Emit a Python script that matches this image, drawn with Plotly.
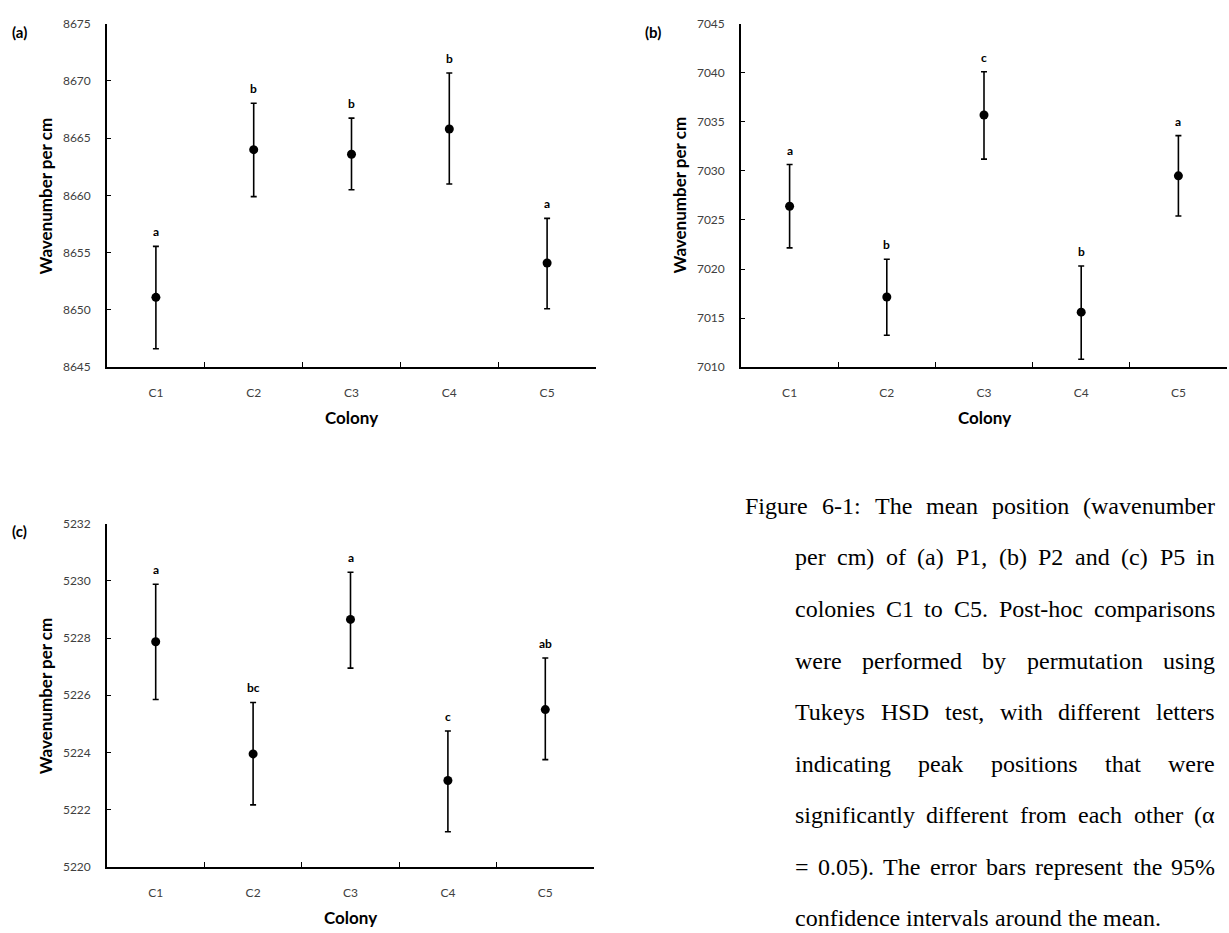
import plotly.graph_objects as go

W, H = 1229, 933

colonies = ["C1", "C2", "C3", "C4", "C5"]

p1_mean = [8651.1, 8664.0, 8663.6, 8665.8, 8654.1]
p1_upper = [8655.55, 8668.05, 8666.75, 8670.7, 8658.0]
p1_lower = [8646.6, 8659.9, 8660.5, 8661.0, 8650.1]
p1_letters = ["a", "b", "b", "b", "a"]

p2_mean = [7026.4, 7017.15, 7035.7, 7015.6, 7029.5]
p2_upper = [7030.65, 7021.0, 7040.1, 7020.3, 7033.6]
p2_lower = [7022.15, 7013.25, 7031.2, 7010.8, 7025.4]
p2_letters = ["a", "b", "c", "b", "a"]

p5_mean = [5227.87, 5223.95, 5228.65, 5223.02, 5225.5]
p5_upper = [5229.88, 5225.75, 5230.3, 5224.75, 5227.3]
p5_lower = [5225.85, 5222.17, 5226.95, 5221.23, 5223.75]
p5_letters = ["a", "bc", "a", "c", "ab"]

y_ranges = [[8645, 8675], [7010, 7045], [5220, 5232]]
y_dticks = [5, 5, 2]
panel_labels = ["(a)", "(b)", "(c)"]
y_title = "Wavenumber per cm"
x_title = "Colony"

caption_lines = [
    "Figure 6-1: The mean position (wavenumber",
    "per cm) of (a) P1, (b) P2 and (c) P5 in",
    "colonies C1 to C5. Post-hoc comparisons",
    "were performed by permutation using",
    "Tukeys HSD test, with different letters",
    "indicating peak positions that were",
    "significantly different from each other (α",
    "= 0.05). The error bars represent the 95%",
    "confidence intervals around the mean.",
]


def px(x):
    return x / W


def py(y):
    return 1 - y / H


# panel boxes in pixels: (left, right, top, bottom)
boxes = [(107, 596, 16, 365), (741, 1227, 16, 365), (107, 594, 524, 873)]

series = [
    (p1_mean, p1_upper, p1_lower, p1_letters),
    (p2_mean, p2_upper, p2_lower, p2_letters),
    (p5_mean, p5_upper, p5_lower, p5_letters),
]

fig = go.Figure()
TICK_FONT = dict(family="Lato", size=12, color="#404040")
annotations = []

for i, ((m, up, lo, letters), box) in enumerate(zip(series, boxes)):
    k = "" if i == 0 else str(i + 1)
    fig.add_trace(go.Scatter(
        x=colonies, y=m, mode="markers",
        marker=dict(color="black", size=9),
        error_y=dict(type="data", symmetric=False,
                     array=[u - v for u, v in zip(up, m)],
                     arrayminus=[v - l for v, l in zip(m, lo)],
                     color="black", thickness=1.6, width=3),
        xaxis="x" + k, yaxis="y" + k, showlegend=False, hoverinfo="skip",
    ))
    l, r, t, b = box
    fig.layout["xaxis" + k] = dict(
        domain=[px(l), px(r)], anchor="y" + k, type="category",
        categoryorder="array", categoryarray=colonies,
        range=[-0.5, 4.5], tickson="boundaries", ticks="inside", ticklen=5,
        tickcolor="black", tickwidth=1.3,
        showline=True, linecolor="black", linewidth=1.6,
        showgrid=False, zeroline=False, tickfont=TICK_FONT,
        ticklabelstandoff=14,
    )
    fig.layout["yaxis" + k] = dict(
        domain=[py(b), py(t)], anchor="x" + k, range=y_ranges[i],
        dtick=y_dticks[i], ticks="inside", ticklen=4, tickcolor="black",
        tickwidth=1.3, showline=True, linecolor="black", linewidth=1.6,
        showgrid=False, zeroline=False, tickfont=TICK_FONT,
        ticklabelstandoff=12, tickformat="d",
    )
    for c, u, txt in zip(colonies, up, letters):
        annotations.append(dict(
            x=c, y=u, xref="x" + k, yref="y" + k, text="<b>%s</b>" % txt,
            showarrow=False, yanchor="bottom", yshift=5,
            font=dict(family="Lato", size=12, color="black")))
    annotations.append(dict(
        x=px(l - 62), y=py((t + b) / 2), xref="paper", yref="paper",
        text="<b>%s</b>" % y_title, textangle=-90, showarrow=False,
        xanchor="center", yanchor="middle",
        font=dict(family="Lato", size=17, color="black")))
    annotations.append(dict(
        x=px((l + r) / 2), y=py(b + 51), xref="paper", yref="paper",
        text="<b>%s</b>" % x_title, showarrow=False,
        xanchor="center", yanchor="middle",
        font=dict(family="Lato", size=17, color="black")))
    annotations.append(dict(
        x=px(l - 88), y=py(t + 8), xref="paper", yref="paper",
        text="<b>%s</b>" % panel_labels[i], showarrow=False,
        xanchor="center", yanchor="middle",
        font=dict(family="Lato", size=15, color="black")))

# caption, justified using Times metrics
TW = {' ': 250, '%': 833, '(': 333, ')': 333, ',': 250, '-': 333, '.': 250,
      ':': 278, '=': 564, 'α': 530,
      'A': 722, 'B': 667, 'C': 667, 'D': 722, 'E': 611, 'F': 556, 'H': 722,
      'P': 556, 'S': 556, 'T': 611,
      'a': 444, 'b': 500, 'c': 444, 'd': 500, 'e': 444, 'f': 333, 'g': 500,
      'h': 500, 'i': 278, 'k': 500, 'l': 278, 'm': 778, 'n': 500, 'o': 500,
      'p': 500, 'r': 333, 's': 389, 't': 278, 'u': 500, 'v': 500, 'w': 722,
      'y': 500}
FS = 24
CAP_FONT = dict(family="Liberation Serif, Times New Roman, serif", size=FS, color="black")


def wlen(s):
    return sum(TW.get(ch, 500) for ch in s) * FS / 1000.0


CAP_R = 1215
CAP_L = 795
CAP_L1 = 745
for j, line in enumerate(caption_lines):
    words = line.split(" ")
    left = CAP_L1 if j == 0 else CAP_L
    yc = 506 + 52.4 * j
    last = j == len(caption_lines) - 1
    widths = [wlen(w) for w in words]
    if last:
        gap = wlen(" ")
    else:
        gap = (CAP_R - left - sum(widths)) / (len(words) - 1)
    xpos = left
    for w, wd in zip(words, widths):
        annotations.append(dict(x=px(xpos + wd / 2), y=py(yc), xref="paper", yref="paper",
                                text=w, showarrow=False, xanchor="center", yanchor="middle",
                                font=CAP_FONT))
        xpos += wd + gap

fig.update_layout(
    width=W, height=H, margin=dict(l=0, r=0, t=0, b=0),
    paper_bgcolor="white", plot_bgcolor="white",
    annotations=annotations, showlegend=False,
)

fig.write_html("out.html", config={"displayModeBar": False})
